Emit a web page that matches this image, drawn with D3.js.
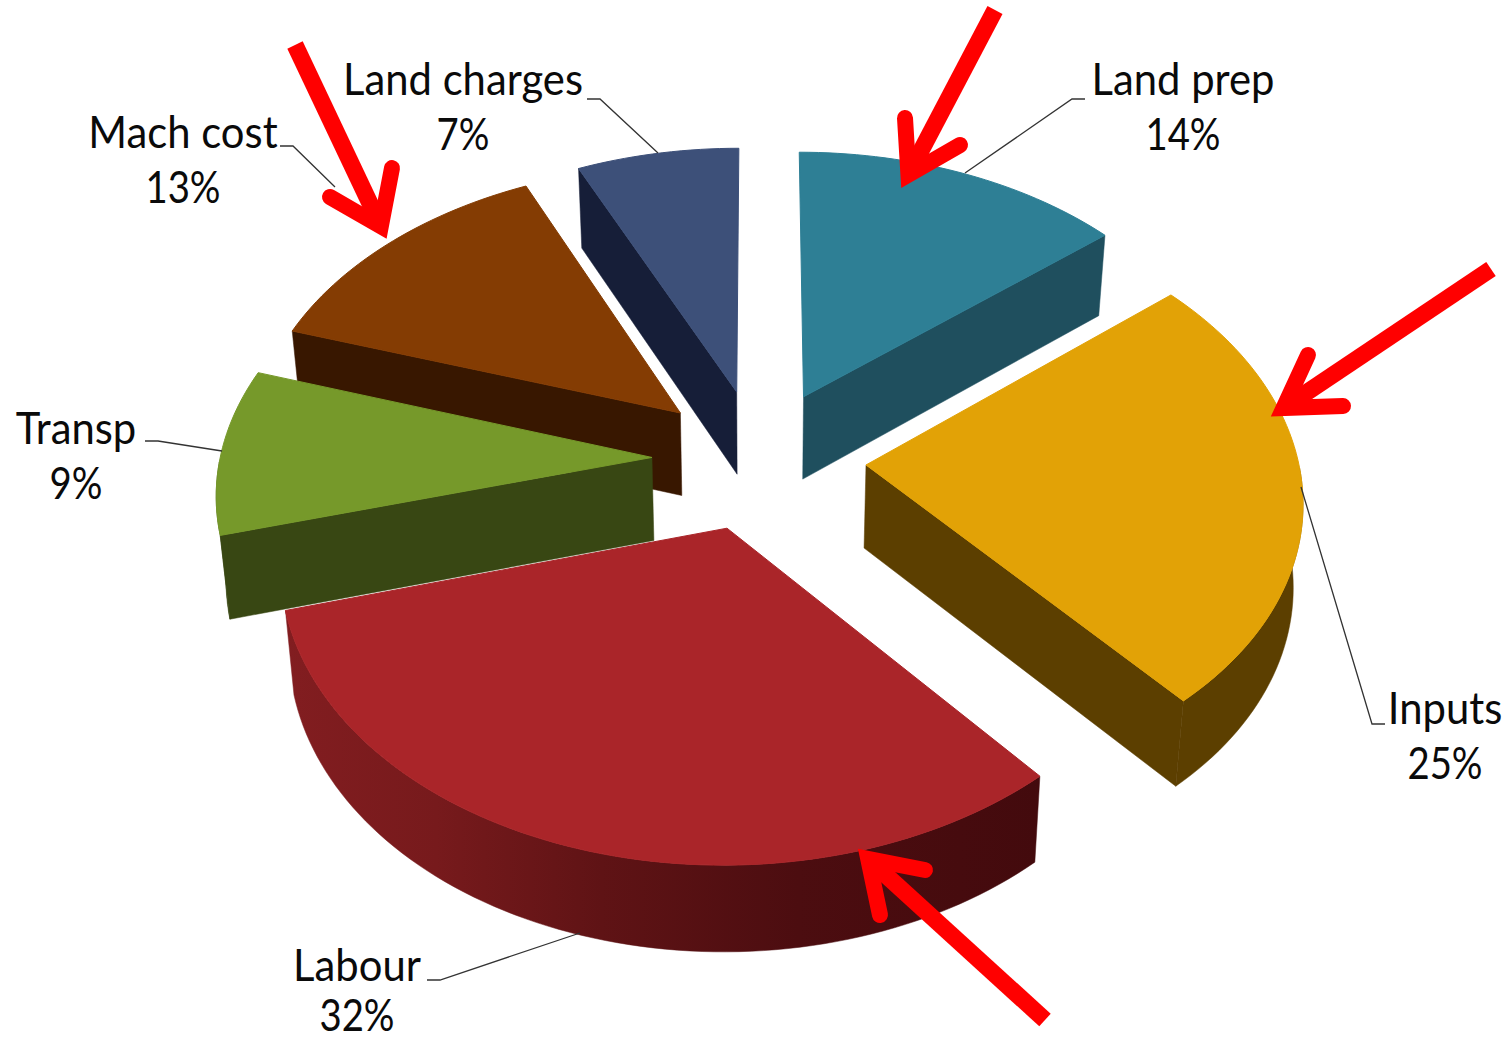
<!DOCTYPE html>
<html><head><meta charset="utf-8">
<style>html,body{margin:0;padding:0;background:#fff}svg{display:block}
text{font-family:Lato,"Open Sans",sans-serif;fill:#0a0a0a;text-anchor:middle}</style>
<script src="https://cdn.jsdelivr.net/npm/d3@7/dist/d3.min.js"></script>
</head><body><svg id="c" width="1512" height="1040"></svg>
<script>
const categories = ["Land prep","Inputs","Labour","Transp","Mach cost","Land charges"];
const values = [14.0,24.7,32.0,9.3,13.15,6.85];
const percentLabels = ["14%","25%","32%","9%","13%","7%"];
const topColors = ["#2E7F95","#E2A206","#AA2529","#76992A","#843C03","#3D5079"];
const wallColors = ["#1F4F5E","#5C3F00","url(#labourWall)","#384713","#381700","#161E38"];
const drawOrder = [5,0,4,1,2,3];

// camera model of the tilted, exploded pie
const cx = 759, cy = 459, rx = 432, ry = 284, persp = 0.109, explode = 0.248;
const sx = d3.scaleLinear([-1,1],[-rx,rx]);
const sy = d3.scaleLinear([-1,1],[-ry,ry]);
function project(X,Y,z){
  const d = 1 - persp*Y;
  const x = sx(X)/d, y = sy(Y)/d;
  return [cx + x*(1-0.018*z), cy + y + z*(83+3*Y)];
}
const svg = d3.select("#c");
const defs = svg.append("defs");
const grad = defs.append("linearGradient").attr("id","labourWall")
  .attr("gradientUnits","userSpaceOnUse").attr("x1",285).attr("x2",1040).attr("y1",0).attr("y2",0);
[[0,"#821D20"],[0.2,"#771A1C"],[0.42,"#5F1315"],[0.68,"#4C0D10"],[1,"#430A0D"]]
  .forEach(([o,c])=>grad.append("stop").attr("offset",o).attr("stop-color",c));

const arcs = d3.pie().sort(null).startAngle(0).endAngle(2*Math.PI)(values);
const line = d3.line();
const gPie = svg.append("g");
drawOrder.forEach(i=>{
  const a = arcs[i], mid = (a.startAngle+a.endAngle)/2;
  const ox = explode*Math.sin(mid), oy = -explode*Math.cos(mid);
  const pt = (t,z)=>project(ox+Math.sin(t),oy-Math.cos(t),z);
  const apex = z=>project(ox,oy,z);
  const n = Math.max(8,Math.round((a.endAngle-a.startAngle)*40));
  const ts = d3.range(n+1).map(k=>a.startAngle+(a.endAngle-a.startAngle)*k/n);
  const g = gPie.append("g");
  const wall = pts=>g.append("path").attr("d",line(pts)+"Z").attr("fill",wallColors[i]).attr("stroke",wallColors[i]).attr("stroke-width",0.5);
  if (Math.sin(a.startAngle) < -1e-6) wall([apex(0),pt(a.startAngle,0),pt(a.startAngle,1),apex(1)]);
  if (Math.sin(a.endAngle) > 1e-6) wall([apex(0),pt(a.endAngle,0),pt(a.endAngle,1),apex(1)]);
  const front = ts.filter(t=>Math.cos(t)<0);
  if (front.length>1) wall(front.map(t=>pt(t,0)).concat(front.slice().reverse().map(t=>pt(t,1))));
  g.append("path").attr("d",line([apex(0)].concat(ts.map(t=>pt(t,0))))+"Z")
    .attr("fill",topColors[i]).attr("stroke",topColors[i]).attr("stroke-width",1);
});

// leader lines
const leaders = [
  [[1085,99],[1072,99],[965,173]],
  [[1301,487],[1372,724],[1385,724]],
  [[427,980],[440,980],[580,933]],
  [[145,441],[158,441],[222,451]],
  [[280,146],[293,146],[335,187]],
  [[587,99],[600,99],[658,153]]
];
svg.append("g").selectAll("path").data(leaders).join("path")
  .attr("d",d=>line(d)).attr("fill","none").attr("stroke","#333").attr("stroke-width",1.3);

// labels
const labelAnchors = [[1183,95],[1445,724],[357,981],[76,444],[183,148],[463,95]];
const gLab = svg.append("g").attr("font-size",44);
categories.forEach((c,i)=>{
  const [x,y] = labelAnchors[i];
  const py = Math.min(y+55,1031);
  gLab.append("text").attr("transform",`translate(${x},${y}) scale(0.95,1)`).text(c);
  gLab.append("text").attr("transform",`translate(${x},${py}) scale(0.87,1)`).text(percentLabels[i]);
});

// red arrows: [shaft start, tip, barb A, barb B]
const arrows = [
  [[995,10],[899,192],[905,118],[960,145]],
  [[295,45],[388,242],[392,168],[330,197]],
  [[1491,269],[1267,419],[1308,355],[1343,406]],
  [[1045,1020],[855,846],[925,870],[880,915]]
];
const w = 16;
const gArrow = svg.append("g").attr("fill","none").attr("stroke","#FF0000");
arrows.forEach(([s,t,a,b])=>{
  const unit = (p,q)=>{const dx=q[0]-p[0],dy=q[1]-p[1],l=Math.hypot(dx,dy);return [dx/l,dy/l];};
  const ua = unit(t,a), ub = unit(t,b);
  const bis = unit([0,0],[ua[0]+ub[0],ua[1]+ub[1]]);
  const half = Math.acos(ua[0]*bis[0]+ua[1]*bis[1]);
  const off = (w/2)/Math.sin(half);
  const v = [t[0]+bis[0]*off,t[1]+bis[1]*off];
  gArrow.append("path").attr("d",line([s,v])).attr("stroke-width",w+1);
  gArrow.append("path").attr("d",line([a,v,b])).attr("stroke-width",w)
    .attr("stroke-linecap","round").attr("stroke-linejoin","miter").attr("stroke-miterlimit",20);
});
</script></body></html>
